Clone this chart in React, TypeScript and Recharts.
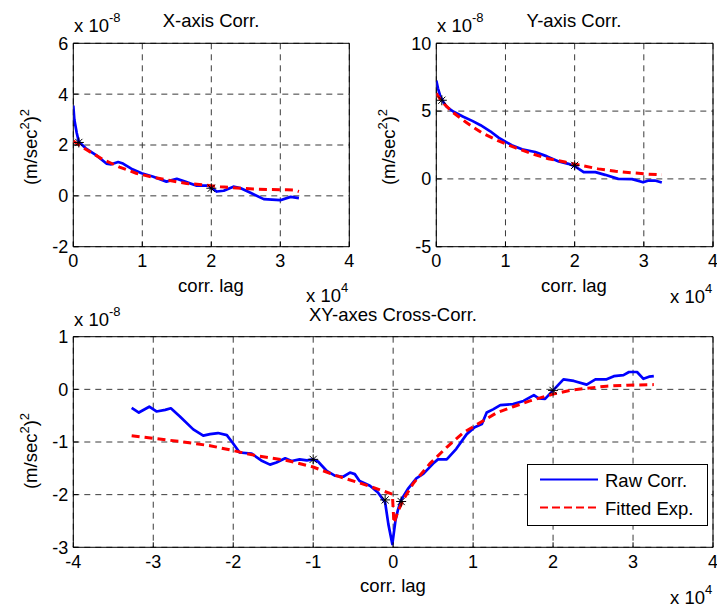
import React from 'react';
import { ComposedChart, Line, Scatter, XAxis, YAxis, CartesianGrid, ReferenceArea, Legend } from 'recharts';

const FONT = '"Liberation Sans", Arial, Helvetica, sans-serif';

// ---- X-axis autocorrelation (lag in 1e4, value in 1e-8) ----
const xRawLag = [0, 0.015, 0.05, 0.08, 0.18, 0.33, 0.48, 0.55, 0.65, 0.72, 0.84, 0.99, 1.15, 1.35, 1.5, 1.62, 1.79, 1.96, 2.0, 2.08, 2.18, 2.32, 2.42, 2.56, 2.76, 3.0, 3.15, 3.27];
const xRawVal = [3.55, 3.0, 2.47, 2.13, 1.87, 1.6, 1.27, 1.24, 1.33, 1.27, 1.07, 0.89, 0.76, 0.56, 0.67, 0.56, 0.4, 0.4, 0.31, 0.17, 0.2, 0.36, 0.31, 0.13, -0.13, -0.17, -0.04, -0.09];
const xFitLag = [0, 0.18, 0.43, 0.67, 0.91, 1.16, 1.4, 1.64, 1.88, 2.13, 2.37, 2.61, 2.85, 3.1, 3.2, 3.27];
const xFitVal = [2.16, 1.83, 1.43, 1.13, 0.89, 0.73, 0.6, 0.49, 0.43, 0.36, 0.31, 0.27, 0.25, 0.24, 0.23, 0.17];
const xStarLag = [0.08, 2.0];
const xStarVal = [2.1, 0.3];

// ---- Y-axis autocorrelation ----
const yRawLag = [0, 0.024, 0.06, 0.1, 0.15, 0.25, 0.39, 0.52, 0.64, 0.78, 0.9, 1.09, 1.24, 1.43, 1.6, 1.77, 1.91, 2.0, 2.13, 2.3, 2.44, 2.63, 2.83, 2.99, 3.07, 3.16, 3.26];
const yRawVal = [7.25, 6.68, 6.06, 5.69, 5.32, 4.95, 4.58, 4.28, 3.96, 3.51, 3.04, 2.48, 2.18, 1.98, 1.66, 1.29, 1.11, 0.94, 0.5, 0.5, 0.3, 0.0, -0.02, -0.25, -0.12, -0.12, -0.27];
const yFitLag = [0, 0.08, 0.23, 0.42, 0.66, 0.9, 1.14, 1.38, 1.62, 1.86, 2.1, 2.34, 2.59, 2.83, 3.07, 3.26];
const yFitVal = [6.31, 5.69, 4.95, 4.21, 3.39, 2.8, 2.3, 1.86, 1.49, 1.24, 0.99, 0.74, 0.57, 0.45, 0.35, 0.3];
const yStarLag = [0.08, 2.0];
const yStarVal = [5.8, 1.0];

// ---- XY cross-correlation ----
const xyRawLag = [-3.27, -3.18, -3.05, -2.96, -2.85, -2.78, -2.67, -2.5, -2.375, -2.29, -2.19, -2.08, -2.01, -1.92, -1.77, -1.65, -1.54, -1.46, -1.35, -1.27, -1.17, -1.08, -1.0, -0.94, -0.83, -0.73, -0.625, -0.54, -0.48, -0.42, -0.29, -0.19, -0.1, -0.06, -0.01, 0.03, 0.06, 0.1, 0.19, 0.29, 0.38, 0.5, 0.56, 0.67, 0.79, 0.92, 1.02, 1.11, 1.17, 1.25, 1.34, 1.5, 1.63, 1.76, 1.82, 1.9, 2.0, 2.13, 2.26, 2.42, 2.53, 2.67, 2.76, 2.88, 2.95, 3.05, 3.13, 3.2, 3.26];
const xyRawVal = [-0.35, -0.44, -0.33, -0.42, -0.39, -0.36, -0.51, -0.76, -0.88, -0.85, -0.83, -0.87, -1.01, -1.2, -1.22, -1.35, -1.43, -1.39, -1.31, -1.36, -1.33, -1.35, -1.33, -1.37, -1.55, -1.64, -1.66, -1.58, -1.61, -1.74, -1.83, -1.96, -2.15, -2.56, -2.94, -2.48, -2.29, -2.1, -1.88, -1.69, -1.6, -1.41, -1.33, -1.33, -1.13, -0.85, -0.72, -0.66, -0.44, -0.38, -0.3, -0.28, -0.22, -0.11, -0.17, -0.18, -0.02, 0.19, 0.16, 0.09, 0.19, 0.19, 0.25, 0.27, 0.33, 0.33, 0.2, 0.24, 0.25];
const xyFitLag = [-3.27, -3.0, -2.67, -2.29, -2.01, -1.71, -1.33, -1.01, -0.71, -0.375, -0.125, -0.01, 0.01, 0.06, 0.125, 0.25, 0.46, 0.67, 0.88, 1.09, 1.3, 1.5, 1.71, 2.0, 2.21, 2.42, 2.67, 2.93, 3.26];
const xyFitVal = [-0.88, -0.93, -0.99, -1.07, -1.16, -1.26, -1.35, -1.47, -1.64, -1.8, -1.93, -1.99, -2.54, -2.32, -2.1, -1.79, -1.41, -1.1, -0.82, -0.63, -0.44, -0.33, -0.22, -0.09, -0.02, 0.02, 0.06, 0.08, 0.09];
const xyStarLag = [-1.0, -0.1, 0.1, 2.0];
const xyStarVal = [-1.33, -2.1, -2.13, -0.02];

// ---- axes ----
const tlXTicks = [0, 1, 2, 3, 4];
const tlYTicks = [-2, 0, 2, 4, 6];
const trXTicks = [0, 1, 2, 3, 4];
const trYTicks = [-5, 0, 5, 10];
const bXTicks = [-4, -3, -2, -1, 0, 1, 2, 3, 4];
const bYTicks = [-3, -2, -1, 0, 1];

const RAW_NAME = 'Raw Corr.';
const FIT_NAME = 'Fitted Exp.';
const LEGEND_ORDER = [RAW_NAME, FIT_NAME];
const RAW_STYLE = { stroke: '#0000ff', strokeWidth: 2.7, strokeDasharray: undefined as string | undefined };
const FIT_STYLE = { stroke: '#ff0000', strokeWidth: 3, strokeDasharray: '8 5' };

const zip = (xs: number[], ys: number[]) => xs.map((x, i) => ({ x, y: ys[i] }));

function Asterisk(props: any) {
  const { cx, cy } = props;
  if (cx == null || cy == null) return null;
  const r = 5;
  const d = 3.6;
  return (
    <g stroke="#000" strokeWidth={1}>
      <line x1={cx - r} y1={cy} x2={cx + r} y2={cy} />
      <line x1={cx} y1={cy - r} x2={cx} y2={cy + r} />
      <line x1={cx - d} y1={cy - d} x2={cx + d} y2={cy + d} />
      <line x1={cx - d} y1={cy + d} x2={cx + d} y2={cy - d} />
    </g>
  );
}

const renderLegend = (props: any) => {
  const items = (props.payload || [])
    .filter((p: any) => LEGEND_ORDER.includes(p.value))
    .sort((a: any, b: any) => LEGEND_ORDER.indexOf(a.value) - LEGEND_ORDER.indexOf(b.value));
  return (
    <svg width={181} height={62} style={{ display: 'block' }}>
      <rect x={0.5} y={0.5} width={180} height={61} fill="#fff" stroke="#000" strokeWidth={1} />
      {items.map((it: any, i: number) => {
        const st = it.value === FIT_NAME ? FIT_STYLE : RAW_STYLE;
        return (
          <g key={i}>
            <line x1={13} x2={71} y1={15.5 + i * 28} y2={15.5 + i * 28} stroke={st.stroke} strokeWidth={2.2} strokeDasharray={st.strokeDasharray ? '8 4' : undefined} />
            <text x={78} y={22.5 + i * 28} fontSize={18.5} fontFamily={FONT} fill="#000">{it.value}</text>
          </g>
        );
      })}
    </svg>
  );
};

type PanelProps = {
  plot: { left: number; right: number; top: number; bottom: number };
  xDomain: [number, number];
  yDomain: [number, number];
  xTicks: number[];
  yTicks: number[];
  raw: { x: number; y: number }[];
  fit: { x: number; y: number }[];
  stars: { x: number; y: number }[];
  legend?: boolean;
};

const NoLabel = () => <g />;

function Panel({ plot, xDomain, yDomain, xTicks, yTicks, raw, fit, stars, legend }: PanelProps) {
  const YW = 60;
  const XH = 30;
  const margin = { left: plot.left - YW, right: 717 - plot.right, top: plot.top, bottom: 607 - plot.bottom - XH };
  const tick = { fill: '#000', fontSize: 18, fontFamily: FONT };
  const tl = { stroke: '#000', strokeWidth: 1 };
  return (
    <div style={{ position: 'absolute', left: 0, top: 0 }}>
      <ComposedChart width={717} height={607} margin={margin}>
        <CartesianGrid stroke="#3a3a3a" strokeDasharray="6 5" strokeWidth={1} xAxisId="b" yAxisId="l" />
        <XAxis xAxisId="b" type="number" dataKey="x" domain={xDomain} ticks={xTicks} allowDataOverflow interval={0}
          axisLine={false} tickLine={tl} tickSize={-5} tickMargin={13} height={XH} tick={tick} />
        <XAxis xAxisId="t" orientation="top" type="number" dataKey="x" domain={xDomain} ticks={xTicks} allowDataOverflow interval={0}
          axisLine={false} tickLine={tl} tickSize={-5} height={0} tick={NoLabel} />
        <YAxis yAxisId="l" type="number" dataKey="y" domain={yDomain} ticks={yTicks} allowDataOverflow interval={0}
          axisLine={false} tickLine={tl} tickSize={-5} tickMargin={10} width={YW} tick={tick} />
        <YAxis yAxisId="r" orientation="right" type="number" dataKey="y" domain={yDomain} ticks={yTicks} allowDataOverflow interval={0}
          axisLine={false} tickLine={tl} tickSize={-5} width={0} tick={NoLabel} />
        <ReferenceArea xAxisId="b" yAxisId="l" x1={xDomain[0]} x2={xDomain[1]} y1={yDomain[0]} y2={yDomain[1]} fill="none" fillOpacity={0} stroke="#000" strokeWidth={1} ifOverflow="visible" />
        <Line xAxisId="b" yAxisId="l" data={raw} dataKey="y" name={RAW_NAME} type="linear" dot={false} activeDot={false}
          stroke={RAW_STYLE.stroke} strokeWidth={RAW_STYLE.strokeWidth} strokeLinejoin="round" isAnimationActive={false} />
        <Line xAxisId="b" yAxisId="l" data={fit} dataKey="y" name={FIT_NAME} type="linear" dot={false} activeDot={false}
          stroke={FIT_STYLE.stroke} strokeWidth={FIT_STYLE.strokeWidth} strokeDasharray={FIT_STYLE.strokeDasharray} isAnimationActive={false} />
        <Scatter xAxisId="b" yAxisId="l" data={stars} dataKey="y" name="points" legendType="none" shape={<Asterisk />} isAnimationActive={false} />
        {legend ? (
          <Legend layout="vertical" align="center" verticalAlign="middle" content={renderLegend}
            wrapperStyle={{ position: 'absolute', left: 527, top: 464, width: 181, height: 62 }} />
        ) : null}
      </ComposedChart>
    </div>
  );
}

function Exponent({ x, y, base, exp }: { x: number; y: number; base: string; exp: string }) {
  return (
    <text x={x} y={y} fontSize={18.5} fontFamily={FONT} fill="#000">
      {base}
      <tspan dy={-10} fontSize={13}>{exp}</tspan>
    </text>
  );
}

function YLabel({ x, y }: { x: number; y: number }) {
  return (
    <text transform={`translate(${x},${y}) rotate(-90)`} textAnchor="middle" fontSize={18.5} fontFamily={FONT} fill="#000">
      (m/sec<tspan dy={-8} fontSize={13}>2</tspan><tspan dy={8}>)</tspan><tspan dy={-8} fontSize={13}>2</tspan>
    </text>
  );
}

function Texts() {
  const t = { fontSize: 18.5, fontFamily: FONT, fill: '#000' };
  return (
    <svg width={717} height={607} style={{ position: 'absolute', left: 0, top: 0, pointerEvents: 'none' }}>
      <text x={211} y={27} textAnchor="middle" {...t}>X-axis Corr.</text>
      <text x={574} y={27} textAnchor="middle" {...t}>Y-axis Corr.</text>
      <text x={393} y={321} textAnchor="middle" {...t}>XY-axes Cross-Corr.</text>
      <Exponent x={74} y={32} base="x 10" exp="-8" />
      <Exponent x={437} y={32} base="x 10" exp="-8" />
      <Exponent x={74} y={326} base="x 10" exp="-8" />
      <text x={211} y={292} textAnchor="middle" {...t}>corr. lag</text>
      <text x={574} y={292} textAnchor="middle" {...t}>corr. lag</text>
      <text x={393} y={592} textAnchor="middle" {...t}>corr. lag</text>
      <Exponent x={306} y={302} base="x 10" exp="4" />
      <Exponent x={670} y={303} base="x 10" exp="4" />
      <Exponent x={670} y={604} base="x 10" exp="4" />
      <YLabel x={37} y={147} />
      <YLabel x={395} y={147} />
      <YLabel x={37} y={451} />
    </svg>
  );
}

export default function App() {
  return (
    <div style={{ position: 'absolute', left: 0, top: 0, width: 717, height: 607, background: '#fff', overflow: 'hidden' }}>
      <Panel plot={{ left: 73.3, right: 349.3, top: 43.3, bottom: 246.7 }} xDomain={[0, 4]} yDomain={[-2, 6]}
        xTicks={tlXTicks} yTicks={tlYTicks} raw={zip(xRawLag, xRawVal)} fit={zip(xFitLag, xFitVal)} stars={zip(xStarLag, xStarVal)} />
      <Panel plot={{ left: 436.3, right: 713, top: 43.3, bottom: 246.7 }} xDomain={[0, 4]} yDomain={[-5, 10]}
        xTicks={trXTicks} yTicks={trYTicks} raw={zip(yRawLag, yRawVal)} fit={zip(yFitLag, yFitVal)} stars={zip(yStarLag, yStarVal)} />
      <Panel plot={{ left: 73.3, right: 713, top: 336.7, bottom: 547.3 }} xDomain={[-4, 4]} yDomain={[-3, 1]}
        xTicks={bXTicks} yTicks={bYTicks} raw={zip(xyRawLag, xyRawVal)} fit={zip(xyFitLag, xyFitVal)} stars={zip(xyStarLag, xyStarVal)} legend />
      <Texts />
    </div>
  );
}
